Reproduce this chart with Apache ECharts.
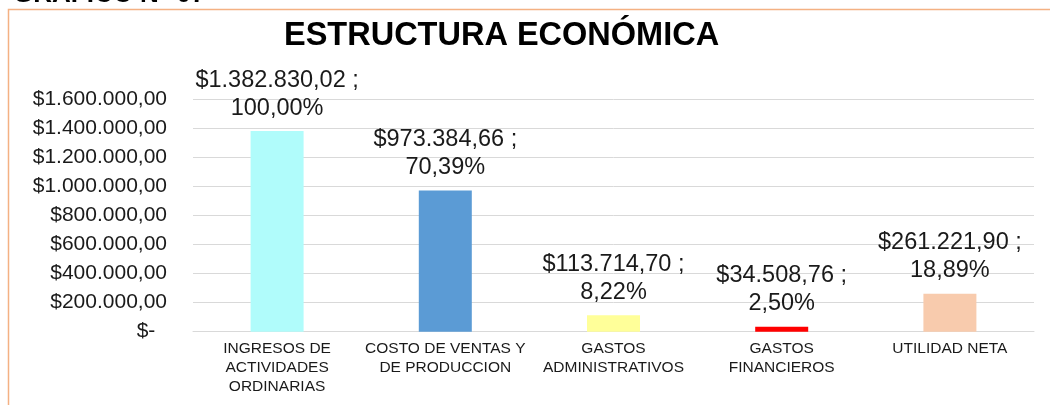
<!DOCTYPE html>
<html>
<head>
<meta charset="utf-8">
<script src="https://cdn.jsdelivr.net/npm/echarts@6/dist/echarts.min.js"></script>
<style>
  html, body { margin: 0; padding: 0; background: #fff; }
  #chart { width: 1050px; height: 405px; }
</style>
</head>
<body>
<div id="chart"></div>
<script>
  // data
  const categories = [
    'INGRESOS DE\nACTIVIDADES\nORDINARIAS',
    'COSTO DE VENTAS Y\nDE PRODUCCION',
    'GASTOS\nADMINISTRATIVOS',
    'GASTOS\nFINANCIEROS',
    'UTILIDAD NETA'
  ]
  const amounts = [1382830.02, 973384.66, 113714.70, 34508.76, 261221.90]
  const shares = [100.00, 70.39, 8.22, 2.50, 18.89]
  const barColors = ['#B0FCFB', '#5B9BD5', '#FFFF99', '#FF0000', '#F8CBAD']

  // 1234567.8 -> 1.234.567,80
  function money(v) {
    const parts = v.toFixed(2).split('.')
    const whole = parts[0].replace(/\B(?=(\d{3})+(?!\d))/g, '.')
    return whole + ',' + parts[1]
  }

  const chart = echarts.init(document.getElementById('chart'))

  const option = {
    backgroundColor: '#fff',
    animation: false,
    title: {
      text: 'ESTRUCTURA ECONÓMICA',
      left: 279,
      top: 15,
      textStyle: {
        fontFamily: 'Liberation Sans, Arial',
        fontSize: 32.5,
        fontWeight: 'bold',
        color: '#000'
      }
    },
    graphic: [{
      type: 'rect',
      shape: { x: 8.5, y: 9.5, width: 1100, height: 500 },
      style: { fill: 'none', stroke: '#F4B183', lineWidth: 1.5 },
      silent: true
    }, {
      type: 'text',
      left: 13,
      top: -18,
      style: {
        text: 'GRAFICO N° 07',
        font: 'bold 26px "Liberation Sans", Arial',
        fill: '#000'
      },
      silent: true
    }],
    grid: {
      left: 193,
      right: 16,
      top: 99.5,
      bottom: 73.3,
      outerBoundsMode: 'none'
    },
    xAxis: {
      type: 'category',
      data: categories,
      axisLine: { lineStyle: { color: '#D9D9D9', width: 1 } },
      axisTick: { show: false },
      axisLabel: {
        interval: 0,
        margin: 8,
        fontFamily: 'Liberation Sans, Arial',
        fontSize: 15.5,
        lineHeight: 19,
        color: '#1a1a1a'
      }
    },
    yAxis: {
      type: 'value',
      min: 0,
      max: 1600000,
      interval: 200000,
      axisLine: { show: false },
      axisTick: { show: false },
      splitLine: { lineStyle: { color: '#D9D9D9', width: 1 } },
      axisLabel: {
        margin: 26,
        fontFamily: 'Liberation Sans, Arial',
        fontSize: 21,
        color: '#1a1a1a',
        formatter: function(v) {
          return v === 0 ? '$-  ' : '$' + money(v)
        }
      }
    },
    series: [{
      type: 'bar',
      barWidth: 53,
      data: amounts.map(function(v, i) {
        return { value: v, itemStyle: { color: barColors[i] } }
      }),
      label: {
        show: true,
        position: 'top',
        distance: 9,
        fontFamily: 'Liberation Sans, Arial',
        fontSize: 23.5,
        lineHeight: 28,
        color: '#1a1a1a',
        align: 'center',
        formatter: function(p) {
          return '$' + money(p.value) + ' ;\n' + shares[p.dataIndex].toFixed(2).replace('.', ',') + '%'
        }
      }
    }]
  }

  chart.setOption(option)
</script>
</body>
</html>
